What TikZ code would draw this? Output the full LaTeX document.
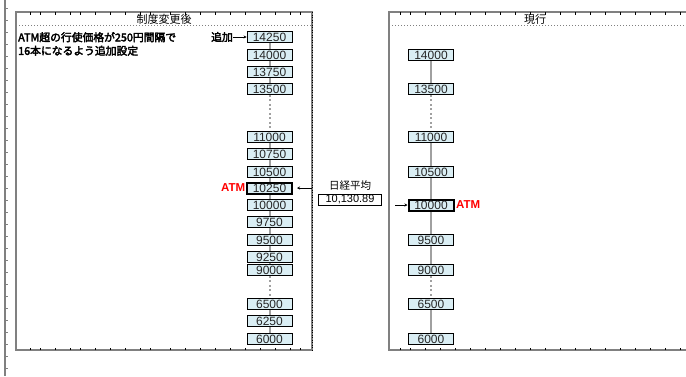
\documentclass[tikz,border=0pt]{standalone}
\usepackage{fontspec}
\setmainfont{Liberation Sans}
\newfontfamily\jp{Noto Sans CJK JP}
\newfontfamily\jpb[FakeBold=3]{Noto Sans CJK JP}
\newfontfamily\numfont{Liberation Sans}
\usetikzlibrary{backgrounds,arrows.meta}
\definecolor{boxblue}{RGB}{218,238,244}
\definecolor{framegray}{RGB}{128,128,128}
\definecolor{laddergray}{RGB}{160,160,160}
\tikzset{
  strike/.style={draw=black, fill=boxblue, minimum width=45pt, minimum height=11pt, inner sep=0pt,
    line width=0.9pt, font=\numfont\fontsize{12}{12}\selectfont, text=black!85},
  atmstrike/.style={strike, line width=2pt},
  ladder/.style={draw=laddergray, line width=2pt},
  ladderdot/.style={draw=laddergray, line width=2pt, dash pattern=on 2pt off 2.5pt},
  frame/.style={draw=framegray, line width=1.6pt},
  tarrow/.style={draw=black, line width=0.7pt, -{Stealth[length=3pt,width=3pt]}},
  atmlabel/.style={text=red, font=\numfont\bfseries\fontsize{11.5}{11.5}\selectfont, inner sep=0pt},
  jptext/.style={font=\jpb\fontsize{10.8}{13.5}\selectfont, inner sep=0pt, align=left},
  title/.style={font=\jp\fontsize{11}{11}\selectfont, inner sep=0pt}
}
\begin{document}
\begin{tikzpicture}[x=1pt,y=-1pt]
\useasboundingbox (0,0) rectangle (686,376);
\clip (0,0) rectangle (686,376);
% outer left line with ticks
\draw[frame] (5,0) -- (5,376);
\foreach \t in {8,20,32,44,56,68,80,92,104,116,128,140,152,164,176,188,200,212,224,236,248,260,272,284,296,308,320,332,344,356,368}
  \draw[framegray, line width=0.6pt] (5,\t) -- (7.5,\t);
% left panel
\draw[frame] (16,12) rectangle (312,350);
\draw[framegray, line width=0.6pt, dash pattern=on 1pt off 2pt] (16,25) -- (312,25);
\foreach \t in {30,40,55,70,80,95,110,125,140,150,170,185,200,215,230,245,260,275,290,300}
  {\draw[black, line width=0.5pt] (\t,12) -- (\t,14.5);
   \draw[black, line width=0.5pt] (\t,350) -- (\t,347.5);}
\draw[black, line width=0.6pt, dash pattern=on 1pt off 1.5pt] (312,12) -- (312,350);
\node[title] (tl) at (164,19) {制度変更後};
% right panel
\draw[frame] (389,12) rectangle (700,350);
\draw[framegray, line width=0.6pt, dash pattern=on 1pt off 2pt] (389,25) -- (700,25);
\foreach \t in {400,410,425,440,455,470,485,500,515,530,545,560,575,590,605,620,635,650,665,680}
  {\draw[black, line width=0.5pt] (\t,12) -- (\t,14.5);
   \draw[black, line width=0.5pt] (\t,350) -- (\t,347.5);}
\node[title] (tr) at (535,19) {現行};
% description
\node[jptext, anchor=north west] (desc) at (18,32) {ATM超の行使価格が250円間隔で\\16本になるよう追加設定};
% left ladder
\foreach \v/\y in {14250/37,14000/55,13750/72,13500/89,11000/137,10750/154,10500/172,10000/205,9750/222,9500/240,9250/257,9000/270,6500/304,6250/321,6000/339}
  \node[strike] (a\v) at (269.5,\y) {\v};
\node[atmstrike] (a10250) at (269.5,188) {10250};
% right ladder
\foreach \v/\y in {14000/55,13500/89,11000/137,10500/172,9500/240,9000/270,6500/304,6000/339}
  \node[strike] (b\v) at (431,\y) {\v};
\node[atmstrike] (b10000) at (431,205) {10000};
\begin{scope}[on background layer]
  \draw[ladder] (a14250) -- (a13500);
  \draw[ladderdot] (a13500.south) -- (a11000.north);
  \draw[ladder] (a11000) -- (a9000);
  \draw[ladderdot] (a9000.south) -- (a6500.north);
  \draw[ladder] (a6500) -- (a6000);
  \draw[ladder] (b14000) -- (b13500);
  \draw[ladderdot] (b13500.south) -- (b11000.north);
  \draw[ladder] (b11000) -- (b9000);
  \draw[ladderdot] (b9000.south) -- (b6500.north);
  \draw[ladder] (b6500) -- (b6000);
\end{scope}
% labels
\node[jptext, anchor=east] (add) at (233,37) {追加};
\draw[tarrow] (add.east) -- (a14250.west);
\node[atmlabel, anchor=east] (atml) at (245.5,188) {ATM};
\node[atmlabel, anchor=west] (atmr) at (456,205) {ATM};
% nikkei
\node[title, font=\jp\fontsize{10.5}{10.5}\selectfont] (nk) at (350,186) {日経平均};
\node[draw=black, line width=0.9pt, fill=white, minimum width=63pt, minimum height=11pt, inner sep=0pt,
  font=\numfont\fontsize{11}{11}\selectfont] (nkv) at (350,199.5) {10,130.89};
\coordinate (la) at (312,188);
\coordinate (la2) at (297,188);
\draw[tarrow] (la) -- (la2);
\coordinate (ra) at (395,205);
\draw[tarrow] (ra) -- (b10000.west);
\end{tikzpicture}
\end{document}
